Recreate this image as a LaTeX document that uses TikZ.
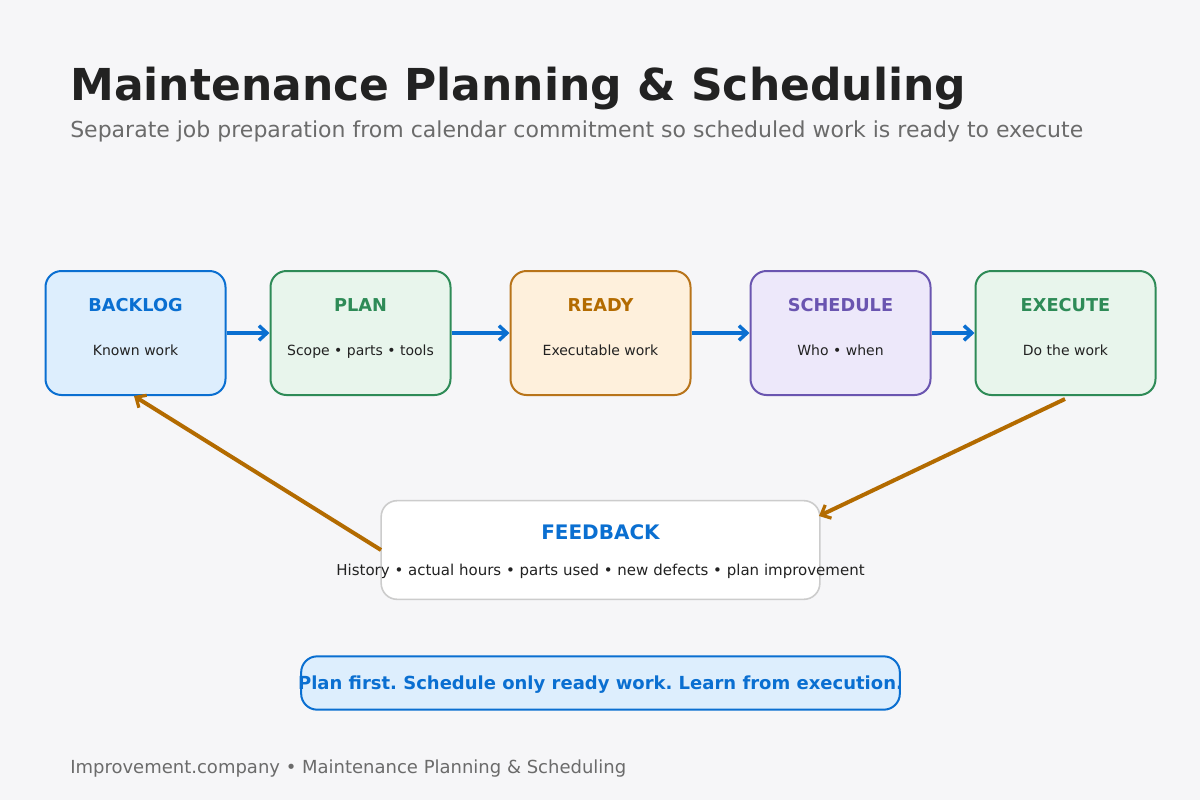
\documentclass[tikz,border=0pt]{standalone}
\usepackage{fontspec}
\setmainfont{DejaVu Sans}
\usetikzlibrary{arrows.meta}
\frenchspacing
\definecolor{bg}{HTML}{F6F6F8}
\definecolor{ink}{HTML}{222222}
\definecolor{greyt}{HTML}{6B6B6B}
\definecolor{blueS}{HTML}{0A6FD1}
\definecolor{blueF}{HTML}{DDEEFD}
\definecolor{greenS}{HTML}{2E8B57}
\definecolor{greenF}{HTML}{E8F5EC}
\definecolor{orS}{HTML}{B8741A}
\definecolor{orF}{HTML}{FEF0DC}
\definecolor{orA}{HTML}{B36B00}
\definecolor{puS}{HTML}{6A55B0}
\definecolor{puF}{HTML}{EDE8FA}
\definecolor{fbS}{HTML}{CCCCCC}
\tikzset{
  stage/.style={draw=#1S, fill=#1F, line width=1.5pt, rounded corners=12pt,
    minimum width=135pt, minimum height=93pt, inner sep=0pt},
  stitle/.style={font=\bfseries\fontsize{13.3}{16}\selectfont, text=#1S},
  ssub/.style={font=\fontsize{10.5}{12}\selectfont, text=ink},
  flow/.style={draw=blueS, line width=3.4pt, -{Straight Barb[length=6pt,width=11pt,line width=2.6pt]}},
  back/.style={draw=orA, line width=3pt, -{Straight Barb[length=6pt,width=11pt,line width=2.4pt]}},
}
\begin{document}
\begin{tikzpicture}[x=0.75pt,y=-0.75pt]
\fill[bg] (0,0) rectangle (1200,800);
\useasboundingbox (0,0) rectangle (1200,800);
\node[anchor=base west, font=\bfseries\fontsize{33}{38}\selectfont, text=ink, inner sep=0pt] (title) at (70,100) {Maintenance Planning \& Scheduling};
\node[anchor=base west, font=\fontsize{16.5}{19}\selectfont, text=greyt, inner sep=0pt] (subtitle) at (70,137) {Separate job preparation from calendar commitment so scheduled work is ready to execute};

\node[stage=blue] (backlog) at (135.5,333) {};
\node[stage=green] (plan) at (360.5,333) {};
\node[stage=or] (ready) at (600.5,333) {};
\node[stage=pu] (schedule) at (840.5,333) {};
\node[stage=green] (execute) at (1065.5,333) {};

\node[stitle=blue, anchor=base] (t1) at (135.5,311) {BACKLOG};
\node[stitle=green, anchor=base] (t2) at (360.5,311) {PLAN};
\node[stitle=or, anchor=base, text=orA] (t3) at (600.5,311) {READY};
\node[stitle=pu, anchor=base] (t4) at (840.5,311) {SCHEDULE};
\node[stitle=green, anchor=base] (t5) at (1065.5,311) {EXECUTE};

\node[ssub, anchor=base] (s1) at (135.5,355) {Known work};
\node[ssub, anchor=base] (s2) at (360.5,355) {Scope • parts • tools};
\node[ssub, anchor=base] (s3) at (600.5,355) {Executable work};
\node[ssub, anchor=base] (s4) at (840.5,355) {Who • when};
\node[ssub, anchor=base] (s5) at (1065.5,355) {Do the work};

\draw[flow] (backlog.east) -- (plan.west);
\draw[flow] (plan.east) -- (ready.west);
\draw[flow] (ready.east) -- (schedule.west);
\draw[flow] (schedule.east) -- (execute.west);

\node[draw=fbS, fill=white, line width=1.2pt, rounded corners=12pt, minimum width=329pt, minimum height=74pt] (feedback) at (600.5,550) {};
\node[anchor=base, font=\bfseries\fontsize{15}{18}\selectfont, text=blueS] (ft) at (600.5,539) {FEEDBACK};
\node[anchor=base, ssub, font=\fontsize{11.25}{13}\selectfont] (fs) at (600.5,575) {History • actual hours • parts used • new defects • plan improvement};

\coordinate (fbl) at (381,550);
\coordinate (bkb) at (134,396);
\coordinate (exb) at (1065,399);
\coordinate (fbr) at (819,516);
\draw[back] (fbl) -- (bkb);
\draw[back] (exb) -- (fbr);

\node[draw=blueS, fill=blueF, line width=1.5pt, rounded corners=12pt, minimum width=449pt, minimum height=40pt] (callout) at (600.5,683) {};
\node[anchor=base, font=\bfseries\fontsize{13.5}{16}\selectfont, text=blueS] (ct) at (600.5,689) {Plan first. Schedule only ready work. Learn from execution.};

\node[anchor=base west, font=\fontsize{13.5}{16}\selectfont, text=greyt, inner sep=0pt] (footer) at (70,773) {Improvement.company • Maintenance Planning \& Scheduling};
\end{tikzpicture}
\end{document}
